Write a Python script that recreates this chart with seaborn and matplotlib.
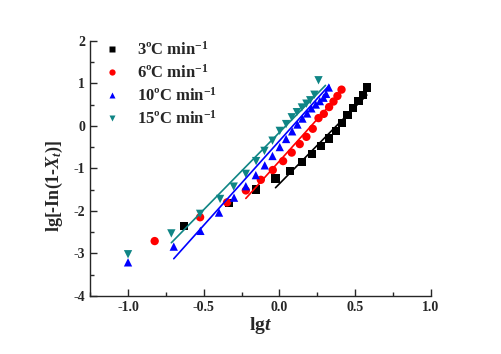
import numpy as np
import pandas as pd
import seaborn as sns
import matplotlib.pyplot as plt
from matplotlib.ticker import MultipleLocator

# heating rates
rates = ['3ºC min$^{-1}$', '6ºC min$^{-1}$', '10ºC min$^{-1}$', '15ºC min$^{-1}$']

lgt_3 = [-0.632, -0.335, -0.154, -0.026, 0.070, 0.148, 0.216, 0.273, 0.326, 0.374,
         0.412, 0.449, 0.487, 0.522, 0.551, 0.577]
val_3 = [-2.35, -1.82, -1.50, -1.24, -1.06, -0.85, -0.67, -0.48, -0.30, -0.12,
         0.06, 0.25, 0.42, 0.58, 0.72, 0.90]

lgt_6 = [-0.824, -0.524, -0.346, -0.222, -0.123, -0.044, 0.024, 0.081, 0.134, 0.178,
         0.220, 0.258, 0.293, 0.328, 0.357, 0.383, 0.410]
val_6 = [-2.71, -2.15, -1.80, -1.52, -1.27, -1.04, -0.83, -0.63, -0.43, -0.26,
         -0.07, 0.18, 0.28, 0.44, 0.57, 0.70, 0.85]

lgt_10 = [-1.0, -0.698, -0.522, -0.399, -0.300, -0.222, -0.156, -0.097, -0.046, 0.002,
          0.044, 0.084, 0.119, 0.152, 0.183, 0.211, 0.240, 0.267, 0.291, 0.308, 0.326]
val_10 = [-3.21, -2.84, -2.47, -2.04, -1.69, -1.42, -1.16, -0.93, -0.71, -0.50,
          -0.31, -0.13, 0.03, 0.17, 0.29, 0.41, 0.50, 0.58, 0.66, 0.75, 0.90]

lgt_15 = [-1.0, -0.714, -0.524, -0.392, -0.302, -0.222, -0.154, -0.099, -0.046, 0.002,
          0.044, 0.081, 0.115, 0.148, 0.178, 0.203, 0.231, 0.258]
val_15 = [-3.02, -2.53, -2.07, -1.72, -1.43, -1.13, -0.83, -0.59, -0.35, -0.12,
          0.04, 0.20, 0.32, 0.43, 0.52, 0.60, 0.73, 1.07]

# linear fit segments (start, end)
fit_x = [[-0.026, 0.577], [-0.222, 0.399], [-0.698, 0.328], [-0.714, 0.304]]
fit_y = [[-1.456, 0.723], [-1.707, 0.746], [-3.125, 0.950], [-2.75, 0.950]]

colors = ['black', '#FF0000', '#0000FF', '#0F8585']
markers = ['s', 'o', '^', 'v']

xs = [lgt_3, lgt_6, lgt_10, lgt_15]
ys = [val_3, val_6, val_10, val_15]
df = pd.concat([pd.DataFrame({'lgt': x, 'val': y, 'rate': r}) for x, y, r in zip(xs, ys, rates)])
fits = pd.concat([pd.DataFrame({'lgt': x, 'val': y, 'rate': r}) for x, y, r in zip(fit_x, fit_y, rates)])

sns.set_style('ticks')
plt.rcParams['font.family'] = ['Liberation Serif', 'DejaVu Serif']
plt.rcParams['font.weight'] = 'bold'
plt.rcParams['axes.unicode_minus'] = False
plt.rcParams['mathtext.fontset'] = 'custom'
plt.rcParams['mathtext.rm'] = 'Liberation Serif:bold'
plt.rcParams['mathtext.it'] = 'Liberation Serif:italic:bold'
plt.rcParams['mathtext.bf'] = 'Liberation Serif:bold'

fig = plt.figure(figsize=(5.01, 3.54), dpi=100)
ax = fig.add_axes([0.18, 0.164, 0.68, 0.721])

pal = dict(zip(rates, colors))
sns.lineplot(data=fits, x='lgt', y='val', hue='rate', palette=pal, legend=False,
             linewidth=1.2, ax=ax, sort=False)
sns.scatterplot(data=df, x='lgt', y='val', hue='rate', style='rate', palette=pal,
                markers=dict(zip(rates, markers)), s=36, edgecolor='none', ax=ax)

ax.set_xlim(-1.25, 1.0)
ax.set_ylim(-4, 2)
ax.xaxis.set_major_locator(MultipleLocator(0.5))
ax.xaxis.set_minor_locator(MultipleLocator(0.25))
ax.yaxis.set_major_locator(MultipleLocator(1))
ax.yaxis.set_minor_locator(MultipleLocator(0.5))
ax.tick_params(direction='in', which='major', length=5, width=1, labelsize=10)
ax.tick_params(direction='in', which='minor', length=3, width=1)
for lab in ax.get_xticklabels() + ax.get_yticklabels():
    lab.set_fontweight('bold')
sns.despine(ax=ax)
for s in ['left', 'bottom']:
    ax.spines[s].set_linewidth(1)

ax.set_xlabel('lg$\\mathit{t}$', fontsize=14, fontweight='bold', labelpad=1)
ax.set_ylabel('lg[-In(1-$\\mathit{X}_\\mathit{t}$)]', fontsize=13, fontweight='bold')
ax.yaxis.set_label_coords(-0.075, 0.43)

leg = ax.legend(loc='upper left', bbox_to_anchor=(-0.02, 1.045), frameon=False,
                prop={'size': 12, 'weight': 'bold'}, handletextpad=0.5,
                labelspacing=0.3, markerscale=0.75, borderaxespad=0.3)

fig.savefig('out.png', dpi=100)
